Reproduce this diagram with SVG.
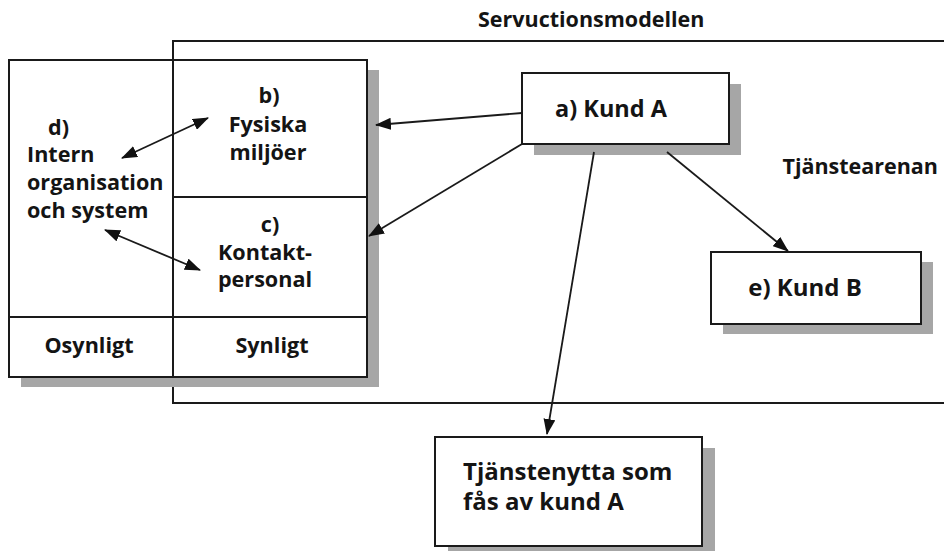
<svg xmlns="http://www.w3.org/2000/svg" width="944" height="551" viewBox="0 0 944 551">
<defs>
<style>
.t{font-family:"Open Sans","Liberation Sans",sans-serif;font-weight:700;fill:#141414}
.s{font-size:21.6px}
.box{fill:#fff;stroke:#1a1a1a;stroke-width:2}
.sh{fill:#a6a6a6}
.ln{fill:none;stroke:#1a1a1a;stroke-width:2}
.c{stroke:#1a1a1a;stroke-width:1.8;fill:none}
</style>
<marker id="ah" markerWidth="16" markerHeight="12" refX="15" refY="6" orient="auto-start-reverse" markerUnits="userSpaceOnUse">
<path d="M0,0 L16,6 L0,12 Z" fill="#111"/>
</marker>
</defs>
<rect width="944" height="551" fill="#fff"/>
<g id="servuction">
<rect x="173" y="41" width="775" height="362" class="ln"/>
<text class="t" x="478" y="27" font-size="21.5">Servuctionsmodellen</text>
<text class="t" x="938" y="174" font-size="21.5" text-anchor="end">Tjänstearenan</text>
</g>
<g id="organisation">
<rect x="21" y="70" width="358" height="317" class="sh"/>
<rect x="9" y="60" width="358" height="317" class="box"/>
<line x1="173" y1="60" x2="173" y2="377" class="ln"/>
<line x1="173" y1="197" x2="367" y2="197" class="ln"/>
<line x1="9" y1="317" x2="367" y2="317" class="ln"/>
</g>
<g id="d">
<text class="t s" x="48" y="135">d)</text>
<text class="t s" x="27" y="162">Intern</text>
<text class="t s" x="27" y="190">organisation</text>
<text class="t s" x="27" y="218">och system</text>
</g>
<g id="b">
<text class="t s" x="269" y="103" text-anchor="middle">b)</text>
<text class="t s" x="268" y="132" text-anchor="middle">Fysiska</text>
<text class="t s" x="268" y="160" text-anchor="middle">miljöer</text>
</g>
<g id="c">
<text class="t s" x="270" y="232" text-anchor="middle">c)</text>
<text class="t s" x="265" y="260" text-anchor="middle">Kontakt-</text>
<text class="t s" x="265" y="287" text-anchor="middle">personal</text>
</g>
<g id="osynligt">
<text class="t s" x="89" y="353" text-anchor="middle">Osynligt</text>
</g>
<g id="synligt">
<text class="t s" x="272" y="353" text-anchor="middle">Synligt</text>
</g>
<g id="kundA">
<rect x="534" y="84" width="207" height="71" class="sh"/>
<rect x="522" y="73" width="207" height="71" class="box"/>
<text class="t" x="611" y="117" font-size="23.5" text-anchor="middle">a) Kund A</text>
</g>
<g id="kundB">
<rect x="723" y="262" width="210" height="72" class="sh"/>
<rect x="711" y="252" width="210" height="72" class="box"/>
<text class="t" x="805" y="296" font-size="24" text-anchor="middle">e) Kund B</text>
</g>
<g id="nytta">
<rect x="448" y="448" width="267" height="109" class="sh"/>
<rect x="435" y="437" width="267" height="109" class="box"/>
<text class="t" x="463" y="480" font-size="24">Tjänstenytta som</text>
<text class="t" x="463" y="510" font-size="24">fås av kund A</text>
</g>
<g id="connectors">
<line x1="522" y1="113" x2="376" y2="125" class="c" marker-end="url(#ah)"/>
<line x1="522" y1="144" x2="369" y2="236" class="c" marker-end="url(#ah)"/>
<line x1="594" y1="152" x2="547" y2="434" class="c" marker-end="url(#ah)"/>
<line x1="667" y1="152" x2="788" y2="251" class="c" marker-end="url(#ah)"/>
<line x1="122" y1="158" x2="208" y2="118" class="c" marker-start="url(#ah)" marker-end="url(#ah)"/>
<line x1="105" y1="230" x2="200" y2="270" class="c" marker-start="url(#ah)" marker-end="url(#ah)"/>
</g>
</svg>
